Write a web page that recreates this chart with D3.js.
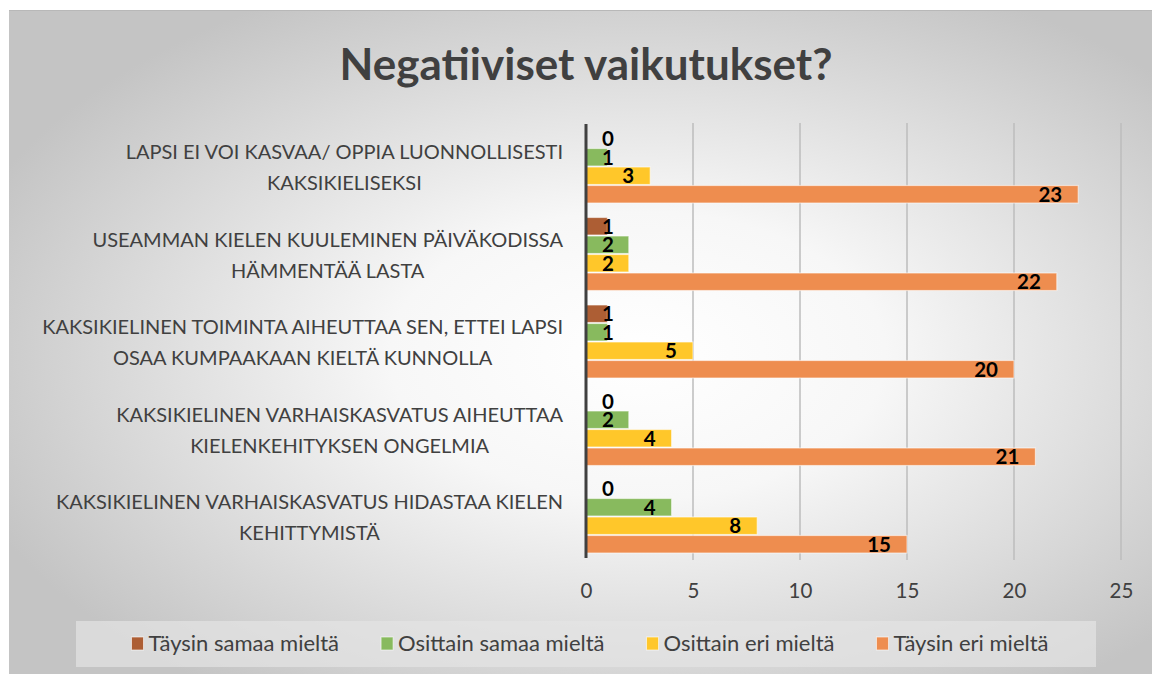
<!DOCTYPE html>
<html><head><meta charset="utf-8">
<script src="https://cdn.jsdelivr.net/npm/d3@7"></script>
<style>html,body{margin:0;padding:0;background:#fff;}svg{display:block;}</style>
</head><body>
<svg id="chart" width="1152" height="674"></svg>
<script>
const title = "Negatiiviset vaikutukset?";
const categories = [
  ["LAPSI EI VOI KASVAA/ OPPIA LUONNOLLISESTI", "KAKSIKIELISEKSI"],
  ["USEAMMAN KIELEN KUULEMINEN PÄIVÄKODISSA", "HÄMMENTÄÄ LASTA"],
  ["KAKSIKIELINEN TOIMINTA AIHEUTTAA SEN, ETTEI LAPSI", "OSAA KUMPAAKAAN KIELTÄ KUNNOLLA"],
  ["KAKSIKIELINEN VARHAISKASVATUS AIHEUTTAA", "KIELENKEHITYKSEN ONGELMIA"],
  ["KAKSIKIELINEN VARHAISKASVATUS HIDASTAA KIELEN", "KEHITTYMISTÄ"]
];
const seriesNames = ["Täysin samaa mieltä", "Osittain samaa mieltä", "Osittain eri mieltä", "Täysin eri mieltä"];
const taysinSamaa   = [0, 1, 1, 0, 0];
const osittainSamaa = [1, 2, 1, 2, 4];
const osittainEri   = [3, 2, 5, 4, 8];
const taysinEri     = [23, 22, 20, 21, 15];
const seriesValues = [taysinSamaa, osittainSamaa, osittainEri, taysinEri];
const colors = ["#AD5E34", "#88BA5E", "#FFC72A", "#EE8D4F"];
const xTicks = [0, 5, 10, 15, 20, 25];

const svg = d3.select("#chart");
const defs = svg.append("defs");
const grad = defs.append("radialGradient").attr("id","bg")
  .attr("cx","55%").attr("cy","52%").attr("r","62%");
grad.append("stop").attr("offset","0%").attr("stop-color","#ffffff");
grad.append("stop").attr("offset","35%").attr("stop-color","#f7f7f7");
grad.append("stop").attr("offset","100%").attr("stop-color","#c4c4c4");

svg.append("rect").attr("x",9).attr("y",10).attr("width",1143).attr("height",664)
  .attr("fill","url(#bg)");
svg.append("line").attr("x1",9).attr("x2",1152).attr("y1",10.5).attr("y2",10.5)
  .attr("stroke","#b8b8b8").attr("stroke-width",1);

const font = "Lato, 'Open Sans', sans-serif";
const textColor = "#404040";

svg.append("text").attr("x",586).attr("y",80).attr("text-anchor","middle")
  .attr("font-family",font).attr("font-weight",700).attr("font-size",44)
  .attr("fill",textColor).text(title);

const x = d3.scaleLinear().domain([0,25]).range([586,1121]);
const y0 = d3.scaleBand().domain(d3.range(categories.length)).range([122.75,560.25])
  .paddingInner(0.154).paddingOuter(0.077);
const y1 = d3.scaleBand().domain(d3.range(seriesNames.length)).range([0,y0.bandwidth()]);

// gridlines
svg.append("g").selectAll("line").data(xTicks.filter(t=>t>0)).join("line")
  .attr("x1",d=>x(d)).attr("x2",d=>x(d)).attr("y1",123).attr("y2",560)
  .attr("stroke","#bdbdbd").attr("stroke-width",1.5);

// tick labels via axis
const axisG = svg.append("g").attr("transform","translate(0,580)")
  .call(d3.axisBottom(x).tickValues(xTicks).tickSize(0).tickPadding(0));
axisG.select(".domain").remove();
axisG.selectAll("text").attr("font-family",font).attr("font-size",20.5)
  .attr("fill",textColor).attr("dy","0.9em");

// bars
const groups = svg.append("g").selectAll("g").data(categories).join("g")
  .attr("transform",(d,i)=>`translate(0,${y0(i)})`);
groups.each(function(c,i){
  const g = d3.select(this);
  const vals = seriesValues.map((s,k)=>({k, v:s[i]}));
  g.selectAll("rect").data(vals).join("rect")
    .attr("x",x(0)).attr("y",d=>y1(d.k)+0.5)
    .attr("width",d=>Math.max(0,x(d.v)-x(0)))
    .attr("height",y1.bandwidth()-1)
    .attr("fill",d=>colors[d.k])
    .attr("stroke","rgba(255,255,255,0.55)").attr("stroke-width",1.2);
  g.selectAll("text.lbl").data(vals).join("text").attr("class","lbl")
    .attr("x",d=>Math.max(x(d.v)-16, x(0)+28))
    .attr("y",d=>y1(d.k)+y1.bandwidth()/2+7.5)
    .attr("text-anchor","end")
    .attr("font-family",font).attr("font-weight",700).attr("font-size",20.5)
    .attr("fill","#000").text(d=>d.v);
});

// category labels
const catG = svg.append("g");
categories.forEach((lines,i)=>{
  const cy = y0(i)+y0.bandwidth()/2;
  const t = catG.append("text").attr("font-family",font).attr("font-size",20)
    .attr("fill",textColor).attr("text-anchor","middle");
  lines.forEach((ln,j)=>{
    t.append("tspan").attr("y",cy-7.5+j*31).text(ln);
  });
  let maxW = 0;
  t.selectAll("tspan").each(function(){maxW=Math.max(maxW,this.getComputedTextLength());});
  t.selectAll("tspan").attr("x",563-maxW/2);
});

// axis line
svg.append("line").attr("x1",x(0)).attr("x2",x(0)).attr("y1",124).attr("y2",558)
  .attr("stroke","#404040").attr("stroke-width",3);

// legend
svg.append("rect").attr("x",76).attr("y",621).attr("width",1020).attr("height",46)
  .attr("fill","#e4e4e4").attr("opacity",0.7);
const legG = svg.append("g");
let cx = 0;
seriesNames.forEach((n,k)=>{
  const it = legG.append("g");
  it.append("rect").attr("x",cx).attr("y",637).attr("width",12).attr("height",13)
    .attr("fill",colors[k]).attr("stroke","rgba(255,255,255,0.6)").attr("stroke-width",1);
  const tx = it.append("text").attr("x",cx+17).attr("y",651).attr("font-family",font)
    .attr("font-size",22).attr("fill",textColor).text(n);
  cx += 17 + tx.node().getComputedTextLength() + 42;
});
const totalW = cx - 42;
legG.attr("transform",`translate(${590-totalW/2},0)`);
</script>
</body></html>
